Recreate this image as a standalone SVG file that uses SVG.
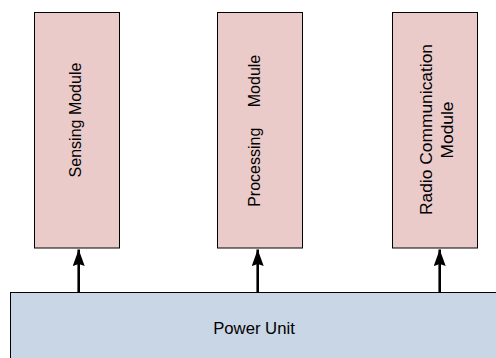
<svg xmlns="http://www.w3.org/2000/svg" width="496" height="358" viewBox="0 0 496 358">
<style>
.mod{fill:#ebcbca;stroke:#000;stroke-width:1}
.pwr{fill:#c9d6e6;stroke:#000;stroke-width:1}
.t{font-family:"Liberation Sans",Arial,sans-serif;fill:#000}
.c{stroke:#000;stroke-width:2.6;fill:none}
</style>
<defs>
<marker id="ah" viewBox="0 0 16.5 12" refX="16.5" refY="6" markerWidth="16.5" markerHeight="12" markerUnits="userSpaceOnUse" orient="auto">
<path d="M0,0 L16.5,6 L0,12 L2,6 Z" fill="#000"/>
</marker>
</defs>
<rect width="496" height="358" fill="#fff"/>
<g id="power">
<rect class="pwr" x="10.5" y="292.5" width="500" height="80"/>
<text class="t" x="254" y="334" font-size="16.7" text-anchor="middle">Power Unit</text>
</g>
<g id="sensing">
<rect class="mod" x="34.5" y="12.5" width="85" height="235.5"/>
<text class="t" font-size="16" text-anchor="middle" transform="translate(81,120) rotate(-90)">Sensing Module</text>
</g>
<g id="processing">
<rect class="mod" x="217.5" y="12.5" width="85" height="235.5"/>
<text class="t" font-size="16" text-anchor="middle" transform="translate(260,130.8) rotate(-90)">Processing<tspan dx="16"> Module</tspan></text>
</g>
<g id="radio">
<rect class="mod" x="392.5" y="12.5" width="85" height="235.5"/>
<text class="t" font-size="17.4" text-anchor="middle" transform="translate(431.5,129.5) rotate(-90)">Radio Communication</text>
<text class="t" font-size="17.4" text-anchor="middle" transform="translate(452.5,130) rotate(-90)">Module</text>
</g>
<g id="connectors">
<line class="c" x1="78.7" y1="293" x2="78.7" y2="249.5" marker-end="url(#ah)"/>
<line class="c" x1="257.7" y1="293" x2="257.7" y2="249.5" marker-end="url(#ah)"/>
<line class="c" x1="439.7" y1="293" x2="439.7" y2="249.5" marker-end="url(#ah)"/>
</g>
</svg>
